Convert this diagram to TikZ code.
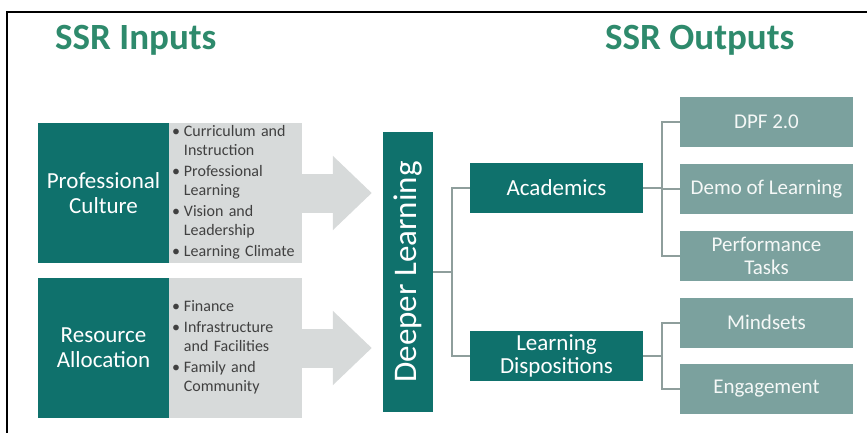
\documentclass[tikz,border=0pt]{standalone}
\usepackage{fontspec}
\setmainfont{Carlito}
\usetikzlibrary{arrows.meta, calc}
\definecolor{ssrteal}{HTML}{0F716C}
\definecolor{ssrsage}{HTML}{7BA19E}
\definecolor{ssrgray}{HTML}{D7DADA}
\definecolor{ssrline}{HTML}{8E9E9C}
\definecolor{ssrtitle}{HTML}{2E8A6C}
\definecolor{ssrtext}{HTML}{404040}
\tikzset{
    my-title/.style={
        anchor=base west, inner sep=0pt, text=ssrtitle, font=\fontsize{37}{39}\selectfont\bfseries
    },
    my-input-box/.style={
        fill=ssrteal, text=white, minimum width=131pt, minimum height=140pt, inner sep=0pt,
        align=center, font=\fontsize{23}{25}\selectfont
    },
    my-list-box/.style={
        fill=ssrgray, text=ssrtext, minimum width=133pt, minimum height=140pt, inner xsep=3pt,
        inner ysep=0pt, text width=127pt, align=left, font=\fontsize{16}{19}\selectfont
    },
    my-fat-arrow/.style={
        draw=ssrgray, line width=39pt, -{Triangle[length=39pt, width=72pt]}, shorten >=11pt
    },
    my-core-box/.style={
        fill=ssrteal, text=white, minimum width=280pt, minimum height=50pt, inner sep=0pt,
        font=\fontsize{33}{33}\selectfont
    },
    my-output-box/.style={
        fill=ssrteal, text=white, minimum width=173pt, minimum height=50pt, inner sep=0pt,
        align=center, font=\fontsize{23}{23}\selectfont
    },
    my-sub-box/.style={
        fill=ssrsage, text=white!92!ssrsage, minimum width=173pt, minimum height=50pt, inner sep=0pt,
        align=center, font=\fontsize{21}{23}\selectfont
    },
    my-wire/.style={
        draw=ssrline, line width=2pt
    },
}

\begin{document}
\begin{tikzpicture}[x=1pt, y=-1pt]

        \useasboundingbox (0, 0) rectangle (867, 433);

        % FRAME ---------------------------------------------------------------------------------------
        \draw[line width=1.5pt] (7, 433) -- (7, 12) -- (867, 12);

        % TITLES
        \node[my-title] (INTITLE)  at (55, 50)  {SSR Inputs};
        \node[my-title] (OUTTITLE) at (605, 50) {SSR Outputs};

        % SSR INPUTS ----------------------------------------------------------------------------------

        % PROFESSIONAL CULTURE
        \node[my-input-box] (PC)  at (103.5, 193) {Professional\\Culture};
        \node[my-list-box]  (PCL) at (235.5, 193) {%
            \begin{tabular}{@{}l@{\hspace{4pt}}l@{}}
            \textbullet & Curriculum and\\
                        & Instruction\\[2pt]
            \textbullet & Professional\\
                        & Learning\\[2pt]
            \textbullet & Vision and\\
                        & Leadership\\[2pt]
            \textbullet & Learning Climate
            \end{tabular}};

        % RESOURCE ALLOCATION
        \node[my-input-box] (RA)  at (103.5, 348) {Resource\\Allocation};
        \node[my-list-box]  (RAL) at (235.5, 348) {%
            \begin{tabular}{@{}l@{\hspace{4pt}}l@{}}
            \textbullet & Finance\\[2pt]
            \textbullet & Infrastructure\\
                        & and Facilities\\[2pt]
            \textbullet & Family and\\
                        & Community
            \end{tabular}};

        % DEEPER LEARNING (ROTATED: NORTH IS THE LEFT SIDE, SOUTH THE RIGHT SIDE)
        \node[my-core-box, rotate=90] (DL) at (408, 272) {Deeper Learning};

        % INPUT ARROWS
        \draw[my-fat-arrow] (PCL.east) -- (PCL.east -| DL.north);
        \draw[my-fat-arrow] (RAL.east) -- (RAL.east -| DL.north);

        % SSR OUTPUTS ---------------------------------------------------------------------------------

        % OUTCOME GROUPS
        \node[my-output-box] (ACAD) at (556.5, 188)   {Academics};
        \node[my-output-box] (DISP) at (556.5, 355.5) {Learning\\Dispositions};

        % MEASURES - ACADEMICS
        \node[my-sub-box] (DPF)  at (766.5, 122) {DPF 2.0};
        \node[my-sub-box] (DEMO) at (766.5, 189) {Demo of Learning};
        \node[my-sub-box] (PERF) at (766.5, 256) {Performance\\Tasks};

        % MEASURES - LEARNING DISPOSITIONS
        \node[my-sub-box] (MIND) at (766.5, 322.5) {Mindsets};
        \node[my-sub-box] (ENG)  at (766.5, 389)   {Engagement};

        % CONNECTOR POINTS
        \coordinate (DLFORK)   at ($(DL.south) + (19, 0)$);
        \coordinate (ACADFORK) at ($(ACAD.east) + (19, 0)$);
        \coordinate (DISPFORK) at ($(DISP.east) + (19, 0)$);

        % WIRES - DEEPER LEARNING
        \draw[my-wire] (DL.south) -- (DLFORK);
        \draw[my-wire] (DLFORK) |- (ACAD.west);
        \draw[my-wire] (DLFORK) |- (DISP.west);

        % WIRES - ACADEMICS
        \draw[my-wire] (ACAD.east) -- (ACADFORK);
        \draw[my-wire] (ACADFORK) |- (DPF.west);
        \draw[my-wire] (ACADFORK) |- (DEMO.west);
        \draw[my-wire] (ACADFORK) |- (PERF.west);

        % WIRES - LEARNING DISPOSITIONS
        \draw[my-wire] (DISP.east) -- (DISPFORK);
        \draw[my-wire] (DISPFORK) |- (MIND.west);
        \draw[my-wire] (DISPFORK) |- (ENG.west);

    \end{tikzpicture}
\end{document}
